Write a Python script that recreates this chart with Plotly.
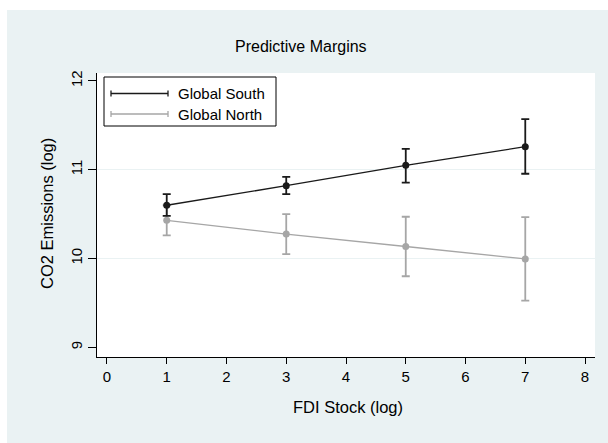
import plotly.graph_objects as go

# ---- data ----
fdi = [1, 3, 5, 7]
south_mean = [10.60, 10.82, 11.05, 11.26]
south_lower = [10.48, 10.725, 10.855, 10.955]
south_upper = [10.725, 10.92, 11.235, 11.57]
north_mean = [10.43, 10.275, 10.135, 9.995]
north_lower = [10.26, 10.05, 9.80, 9.525]
north_upper = [10.60, 10.50, 10.47, 10.465]
series_names = ["Global South", "Global North"]
x_ticks = [0, 1, 2, 3, 4, 5, 6, 7, 8]
y_ticks = [9, 10, 11, 12]
grid_vals = [10, 11]

SOUTH = "#1a1a1a"
NORTH = "#a6a6a6"
BG = "#EAF2F3"
FONT = "Liberation Sans, Arial, sans-serif"

W, H = 608, 443
L, R, T, B = 97, 13, 73, 86
PW, PH = W - L - R, H - T - B


def px(x):
    return (x - L) / PW


def py(y):
    return (H - B - y) / PH


fig = go.Figure()

# invisible trace on yaxis2 for interior grid lines
fig.add_trace(go.Scatter(x=[fdi[0]], y=[grid_vals[0]], yaxis="y2", mode="markers",
                         marker=dict(opacity=0), showlegend=False, hoverinfo="skip"))

for mean, lo, hi, col, name in [(north_mean, north_lower, north_upper, NORTH, series_names[1]),
                                (south_mean, south_lower, south_upper, SOUTH, series_names[0])]:
    fig.add_trace(go.Scatter(
        x=fdi, y=mean, mode="lines+markers", name=name,
        line=dict(color=col, width=1.3),
        marker=dict(color=col, size=7, symbol="circle"),
        error_y=dict(type="data", symmetric=False,
                     array=[h - m for h, m in zip(hi, mean)],
                     arrayminus=[m - l for m, l in zip(mean, lo)],
                     color=col, thickness=1.8, width=4),
        showlegend=False,
    ))

shapes = []
# white strips at left and top of the picture
shapes.append(dict(type="rect", xref="paper", yref="paper", x0=px(0), x1=px(7), y0=py(H), y1=py(0),
                   fillcolor="white", line=dict(width=0), layer="above"))
shapes.append(dict(type="rect", xref="paper", yref="paper", x0=px(0), x1=px(W), y0=py(10), y1=py(0),
                   fillcolor="white", line=dict(width=0), layer="above"))

# custom legend box
lx0, lx1, ly0, ly1 = 104, 276, 77, 126
shapes.append(dict(type="rect", xref="paper", yref="paper", x0=px(lx0), x1=px(lx1), y0=py(ly1), y1=py(ly0),
                   fillcolor="white", line=dict(color="black", width=1), layer="above"))
annotations = []
for i, (name, col) in enumerate([(series_names[0], SOUTH), (series_names[1], NORTH)]):
    yy = 93.5 + i * 20.5
    shapes.append(dict(type="line", xref="paper", yref="paper", x0=px(111), x1=px(168), y0=py(yy), y1=py(yy),
                       line=dict(color=col, width=1.3), layer="above"))
    for xe in (111, 168):
        shapes.append(dict(type="line", xref="paper", yref="paper", x0=px(xe), x1=px(xe),
                           y0=py(yy - 3), y1=py(yy + 3), line=dict(color=col, width=1.3), layer="above"))
    annotations.append(dict(text=name, xref="paper", yref="paper", x=px(176), y=py(yy),
                            xanchor="left", yanchor="middle", showarrow=False,
                            font=dict(family=FONT, size=15, color="black")))

annotations.append(dict(text="Predictive Margins", xref="paper", yref="paper", x=px(301), y=py(47),
                        xanchor="center", yanchor="middle", showarrow=False,
                        font=dict(family=FONT, size=16, color="black")))
annotations.append(dict(text="FDI Stock (log)", xref="paper", yref="paper", x=px(348), y=py(407),
                        xanchor="center", yanchor="middle", showarrow=False,
                        font=dict(family=FONT, size=16.5, color="black")))
annotations.append(dict(text="CO2 Emissions (log)", xref="paper", yref="paper", x=px(47), y=py(214),
                        xanchor="center", yanchor="middle", showarrow=False, textangle=-90,
                        font=dict(family=FONT, size=16.5, color="black")))

yr = [8.89, 12.09]
fig.update_layout(
    width=W, height=H,
    margin=dict(l=L, r=R, t=T, b=B, pad=0),
    paper_bgcolor=BG, plot_bgcolor="white",
    font=dict(family=FONT, size=15, color="black"),
    showlegend=False,
    xaxis=dict(range=[-0.167, 8.167], tickvals=x_ticks, ticktext=[str(v) for v in x_ticks],
               showgrid=False, zeroline=False, showline=True, linecolor="black", linewidth=1,
               ticks="outside", ticklen=6, tickcolor="black", tickwidth=1,
               tickfont=dict(family=FONT, size=15)),
    yaxis=dict(range=yr, tickvals=y_ticks, ticktext=[str(v) for v in y_ticks],
               showgrid=False, zeroline=False, showline=True, linecolor="black", linewidth=1,
               ticks="outside", ticklen=8, tickcolor="black", tickwidth=1, tickangle=-90,
               ticklabelstandoff=0,
               tickfont=dict(family=FONT, size=15)),
    yaxis2=dict(range=yr, overlaying="y", tickvals=grid_vals, showgrid=True, gridcolor=BG, gridwidth=1,
                showticklabels=False, ticks="", zeroline=False, showline=False),
    shapes=shapes, annotations=annotations,
)

fig.write_html("out.html")
